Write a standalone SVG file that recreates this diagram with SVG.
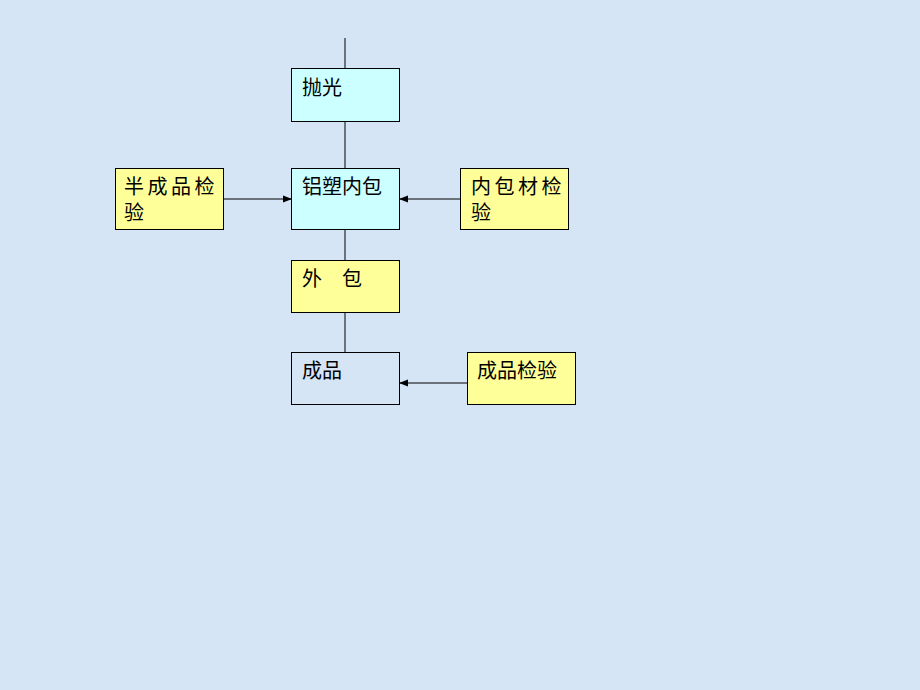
<svg xmlns="http://www.w3.org/2000/svg" width="920" height="690" viewBox="0 0 920 690">
<defs>
<marker id="ah" markerWidth="9" markerHeight="9" refX="8" refY="4.5" orient="auto" markerUnits="userSpaceOnUse">
<path d="M0,1 L9,4.5 L0,8 Z" fill="#000"/>
</marker>
<style>
.box{stroke:#000;stroke-width:1}
.cyan{fill:#ccffff}
.yel{fill:#ffff99}
.none{fill:none}
.t{font-family:"Liberation Sans","Noto Sans CJK SC",sans-serif;font-size:20px;fill:#000}
.ln{stroke:#000;stroke-width:1;fill:none}
</style>
</defs>
<rect width="920" height="690" fill="#d6e5f5"/>
<g id="connectors">
<line class="ln" x1="345" y1="38" x2="345" y2="68"/>
<line class="ln" x1="345" y1="121" x2="345" y2="168"/>
<line class="ln" x1="345" y1="230" x2="345" y2="260"/>
<line class="ln" x1="345" y1="313" x2="345" y2="352"/>
<line class="ln" x1="223" y1="199" x2="291" y2="199" marker-end="url(#ah)"/>
<line class="ln" x1="460" y1="199" x2="400" y2="199" marker-end="url(#ah)"/>
<line class="ln" x1="467" y1="383" x2="400" y2="383" marker-end="url(#ah)"/>
</g>
<g id="n-paoguang">
<rect class="box cyan" x="291.5" y="68.5" width="108" height="53"/>
<text class="t" x="302" y="95">抛光</text>
</g>
<g id="n-neibao">
<rect class="box cyan" x="291.5" y="168.5" width="108" height="61"/>
<text class="t" x="302" y="194">铝塑内包</text>
</g>
<g id="n-banchengpin">
<rect class="box yel" x="115.5" y="168.5" width="108" height="61"/>
<text class="t" x="124" y="194" letter-spacing="3.5">半成品检</text>
<text class="t" x="124" y="220">验</text>
</g>
<g id="n-neibaocai">
<rect class="box yel" x="460.5" y="168.5" width="108" height="61"/>
<text class="t" x="471" y="194" letter-spacing="3.5">内包材检</text>
<text class="t" x="471" y="220">验</text>
</g>
<g id="n-waibao">
<rect class="box yel" x="291.5" y="260.5" width="108" height="52"/>
<text class="t" x="302" y="286" xml:space="preserve">外　包</text>
</g>
<g id="n-chengpin">
<rect class="box none" x="291.5" y="352.5" width="108" height="52"/>
<text class="t" x="302" y="378">成品</text>
</g>
<g id="n-chengpinjianyan">
<rect class="box yel" x="467.5" y="352.5" width="108" height="52"/>
<text class="t" x="477" y="378">成品检验</text>
</g>
</svg>
